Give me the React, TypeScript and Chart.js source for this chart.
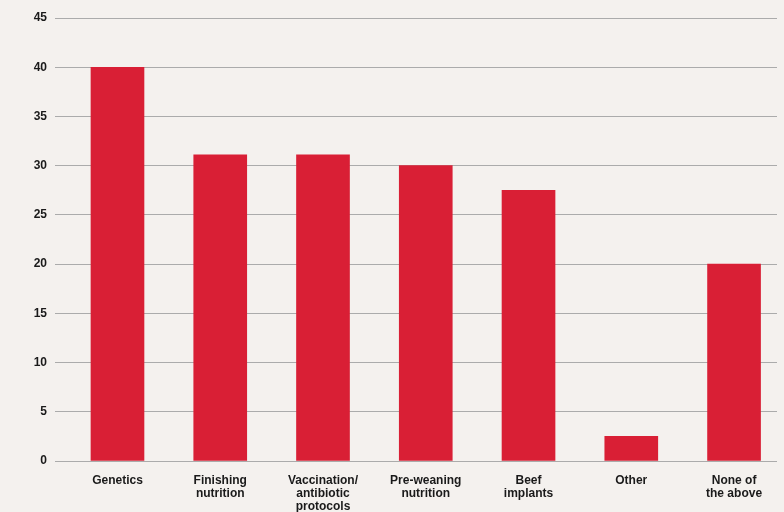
import React, { useEffect, useRef } from "react";
import { Chart, registerables } from "chart.js";

Chart.register(...registerables);

const categories: (string | string[])[] = [
  "Genetics",
  ["Finishing", "nutrition"],
  ["Vaccination/", "antibiotic", "protocols"],
  ["Pre-weaning", "nutrition"],
  ["Beef", "implants"],
  "Other",
  ["None of", "the above"],
];
const values = [40, 31.1, 31.1, 30, 27.5, 2.5, 20];
const yTicks = [0, 5, 10, 15, 20, 25, 30, 35, 40, 45];

const FONT = "'Liberation Sans', Arial, Helvetica, sans-serif";

export default function App() {
  const ref = useRef<HTMLCanvasElement | null>(null);

  useEffect(() => {
    document.body.style.margin = "0";
    const ctx = ref.current!;
    const chart = new Chart(ctx, {
      type: "bar",
      data: {
        datasets: [
          {
            data: values.map((v, i) => ({ x: i, y: v })),
            backgroundColor: "#d91f35",
            borderWidth: 0,
            barThickness: 53,
          },
        ],
      },
      options: {
        animation: false,
        responsive: false,
        maintainAspectRatio: false,
        layout: { padding: { top: 18, right: 7, left: 0, bottom: 0 } },
        plugins: { legend: { display: false }, tooltip: { enabled: false } },
        scales: {
          x: {
            type: "linear",
            offset: false,
            min: -0.608,
            max: 6.418,
            afterBuildTicks: (scale: any) => {
              scale.ticks = categories.map((_, i) => ({ value: i }));
            },
            afterFit: (scale: any) => {
              scale.height = 51;
            },
            grid: { display: false, drawTicks: false, offset: false },
            border: { display: false },
            ticks: {
              autoSkip: false,
              maxRotation: 0,
              padding: 13,
              color: "#1a1a1a",
              font: { family: FONT, size: 12, weight: "bold", lineHeight: 1.1 },
              callback: (v: any) => categories[v as number] as any,
            },
          },
          y: {
            min: 0,
            max: 45,
            afterBuildTicks: (scale: any) => {
              scale.ticks = yTicks.map((v) => ({ value: v }));
            },
            afterFit: (scale: any) => {
              scale.width = 55;
            },
            grid: { color: "#ababab", lineWidth: 1, drawTicks: false },
            border: { display: false },
            ticks: {
              padding: 8,
              color: "#1a1a1a",
              font: { family: FONT, size: 12, weight: "bold" },
            },
          },
        },
      },
    } as any);
    return () => chart.destroy();
  }, []);

  return (
    <div style={{ width: 784, height: 512, background: "#f4f1ee", position: "relative" }}>
      <canvas ref={ref} width={784} height={512} style={{ display: "block", width: 784, height: 512 }} />
    </div>
  );
}
